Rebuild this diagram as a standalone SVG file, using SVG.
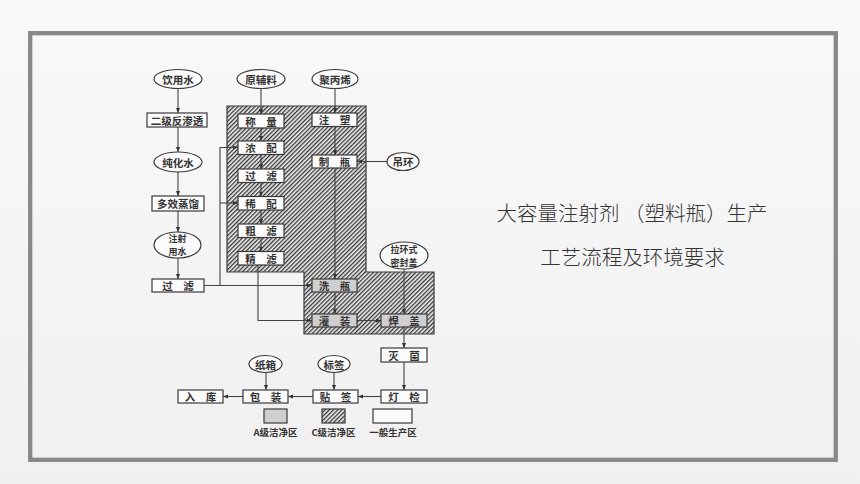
<svg xmlns="http://www.w3.org/2000/svg" width="860" height="484" viewBox="0 0 860 484">
<defs>
  <linearGradient id="bg" x1="0" y1="0" x2="0" y2="1">
    <stop offset="0" stop-color="#f9f9f9"/>
    <stop offset="1" stop-color="#f0f0f0"/>
  </linearGradient>
  <pattern id="hatch" patternUnits="userSpaceOnUse" width="3" height="3" patternTransform="rotate(45)">
    <rect width="3" height="3" fill="#f0f0f0"/>
    <line x1="0.65" y1="0" x2="0.65" y2="3" stroke="#333" stroke-width="1.3"/>
  </pattern>
  <marker id="arr" viewBox="0 0 8 8" refX="8" refY="4" markerWidth="5" markerHeight="5" orient="auto" markerUnits="userSpaceOnUse">
    <path d="M0,0.8 L8,4 L0,7.2 Z" fill="#333"/>
  </marker>
</defs>
<style>
  .frame{fill:none;stroke:#888;stroke-width:4.3}
  .box{fill:#fbfbfb;stroke:#3a3a3a;stroke-width:1.2}
  .boxa{fill:#cfcfcf;stroke:#3a3a3a;stroke-width:1.2}
  .ell{fill:#fbfbfb;stroke:#3a3a3a;stroke-width:1.2}
  .zone{fill:url(#hatch);stroke:#3a3a3a;stroke-width:1.2}
  .t{font-family:"Noto Sans CJK SC","Noto Sans",sans-serif;font-size:10.5px;font-weight:bold;fill:#333;text-anchor:middle;dominant-baseline:central}
  .t2{font-family:"Noto Sans CJK SC","Noto Sans",sans-serif;font-size:9px;font-weight:bold;fill:#333;text-anchor:middle;dominant-baseline:central}
  .lg{font-family:"Noto Sans CJK SC","Noto Sans",sans-serif;font-size:9.5px;font-weight:bold;fill:#333;text-anchor:middle;dominant-baseline:central}
  .title{font-family:"Noto Sans CJK SC",sans-serif;font-size:20.5px;font-weight:300;fill:#333;text-anchor:middle;dominant-baseline:central}
  .ca{fill:none;stroke:#444;stroke-width:1.1;marker-end:url(#arr)}
</style>
<rect width="860" height="484" fill="url(#bg)"/>
<rect class="frame" x="30.2" y="33.2" width="805.6" height="426.6"/>

<g id="zone-c">
  <path class="zone" d="M227,106 H366 V272 H434 V334 H304 V272 H227 Z"/>
</g>

<g id="connectors">
  <line class="ca" x1="178" y1="88.5" x2="178" y2="113"/>
  <line class="ca" x1="178" y1="127" x2="178" y2="152"/>
  <line class="ca" x1="178" y1="172" x2="178" y2="196"/>
  <line class="ca" x1="178" y1="211" x2="178" y2="232"/>
  <line class="ca" x1="178" y1="258" x2="178" y2="279"/>
  <line class="ca" x1="261" y1="88.5" x2="261" y2="114"/>
  <line class="ca" x1="261" y1="128" x2="261" y2="141"/>
  <line class="ca" x1="261" y1="154.5" x2="261" y2="169"/>
  <line class="ca" x1="261" y1="182.5" x2="261" y2="196.5"/>
  <line class="ca" x1="261" y1="210" x2="261" y2="224"/>
  <line class="ca" x1="261" y1="237.5" x2="261" y2="251.5"/>
  <line class="ca" x1="335" y1="88.5" x2="335" y2="113"/>
  <line class="ca" x1="335" y1="126.5" x2="335" y2="155"/>
  <line class="ca" x1="387" y1="161.5" x2="357" y2="161.5"/>
  <line class="ca" x1="335" y1="168" x2="335" y2="279"/>
  <line class="ca" x1="335" y1="292" x2="335" y2="314"/>
  <line class="ca" x1="204" y1="285.5" x2="312" y2="285.5"/>
  <path class="ca" d="M220,285.5 V147.5 H238"/>
  <line class="ca" x1="220" y1="203" x2="238" y2="203"/>
  <path class="ca" d="M258,265 V320.5 H312"/>
  <line class="ca" x1="357" y1="320.5" x2="381" y2="320.5"/>
  <line class="ca" x1="404" y1="269" x2="404" y2="314"/>
  <line class="ca" x1="404" y1="327" x2="404" y2="348"/>
  <line class="ca" x1="404" y1="362" x2="404" y2="390"/>
  <line class="ca" x1="381" y1="396.5" x2="358" y2="396.5"/>
  <line class="ca" x1="313" y1="396.5" x2="288" y2="396.5"/>
  <line class="ca" x1="243" y1="396.5" x2="223" y2="396.5"/>
  <line class="ca" x1="266" y1="372.5" x2="266" y2="390"/>
  <line class="ca" x1="334" y1="372.5" x2="334" y2="390"/>
</g>

<g id="n-yinyongshui"><ellipse class="ell" cx="178" cy="79" rx="24" ry="9.5"/><text class="t" x="178" y="79">饮用水</text></g>
<g id="n-erji"><rect class="box" x="147" y="113" width="60" height="14"/><text class="t" x="177" y="120">二级反渗透</text></g>
<g id="n-chunhuashui"><ellipse class="ell" cx="178" cy="162" rx="24" ry="10"/><text class="t" x="178" y="162">纯化水</text></g>
<g id="n-duoxiao"><rect class="box" x="152" y="196" width="52" height="15"/><text class="t" x="178" y="203.5">多效蒸馏</text></g>
<g id="n-zhusheyongshui"><ellipse class="ell" cx="177.5" cy="245" rx="23.5" ry="13"/><text class="t2" x="177.5" y="238.5">注射</text><text class="t2" x="177.5" y="251.7">用水</text></g>
<g id="n-guolv1"><rect class="box" x="152" y="279" width="52" height="13"/><text class="t" x="178" y="285.5">过　滤</text></g>

<g id="n-yuanfuliao"><ellipse class="ell" cx="261" cy="79" rx="24" ry="9.5"/><text class="t" x="261" y="79">原辅料</text></g>
<g id="n-chengliang"><rect class="box" x="238" y="114" width="46" height="14"/><text class="t" x="261" y="121">称　量</text></g>
<g id="n-nongpei"><rect class="box" x="238" y="141" width="46" height="13.5"/><text class="t" x="261" y="147.75">浓　配</text></g>
<g id="n-guolv2"><rect class="box" x="238" y="169" width="46" height="13.5"/><text class="t" x="261" y="175.75">过　滤</text></g>
<g id="n-xipei"><rect class="box" x="238" y="196.5" width="46" height="13.5"/><text class="t" x="261" y="203.25">稀　配</text></g>
<g id="n-culv"><rect class="box" x="238" y="224" width="46" height="13.5"/><text class="t" x="261" y="230.75">粗　滤</text></g>
<g id="n-jinglv"><rect class="box" x="238" y="251.5" width="46" height="13.5"/><text class="t" x="261" y="258.25">精　滤</text></g>

<g id="n-jubingxi"><ellipse class="ell" cx="335" cy="79" rx="23" ry="9.5"/><text class="t" x="335" y="79">聚丙烯</text></g>
<g id="n-zhusu"><rect class="box" x="312" y="113" width="45" height="13.5"/><text class="t" x="334.5" y="119.75">注　塑</text></g>
<g id="n-zhiping"><rect class="box" x="312" y="155" width="45" height="13"/><text class="t" x="334.5" y="161.5">制　瓶</text></g>
<g id="n-diaohuan"><ellipse class="ell" cx="403" cy="161.5" rx="16" ry="9"/><text class="t" x="403" y="161.5">吊环</text></g>

<g id="n-xiping"><rect class="boxa" x="312" y="279" width="45" height="13"/><text class="t" x="334.5" y="285.5">洗　瓶</text></g>
<g id="n-guanzhuang"><rect class="boxa" x="312" y="314" width="45" height="13"/><text class="t" x="334.5" y="320.5">灌　装</text></g>
<g id="n-hangai"><rect class="boxa" x="381" y="314" width="46" height="13"/><text class="t" x="404" y="320.5">焊　盖</text></g>
<g id="n-lahuanshi"><ellipse class="ell" cx="404" cy="255.5" rx="24" ry="13.5"/><text class="t2" x="404" y="249">拉环式</text><text class="t2" x="404" y="262.2">密封盖</text></g>

<g id="n-miejun"><rect class="box" x="381" y="348" width="46" height="14"/><text class="t" x="404" y="355">灭　菌</text></g>
<g id="n-dengjian"><rect class="box" x="381" y="390" width="46" height="13"/><text class="t" x="404" y="396.5">灯　检</text></g>
<g id="n-tieqian"><rect class="box" x="313" y="390" width="45" height="13"/><text class="t" x="335.5" y="396.5">贴　签</text></g>
<g id="n-baozhuang"><rect class="box" x="243" y="390" width="45" height="13"/><text class="t" x="265.5" y="396.5">包　装</text></g>
<g id="n-ruku"><rect class="box" x="178" y="390" width="45" height="13"/><text class="t" x="200.5" y="396.5">入　库</text></g>
<g id="n-zhixiang"><ellipse class="ell" cx="265.5" cy="364" rx="16.5" ry="8.5"/><text class="t" x="265.5" y="364">纸箱</text></g>
<g id="n-biaoqian"><ellipse class="ell" cx="334" cy="364" rx="16" ry="8.5"/><text class="t" x="334" y="364">标签</text></g>

<g id="legend">
  <rect class="boxa" x="264" y="409" width="23" height="14"/>
  <rect class="zone" x="322" y="409" width="23" height="14"/>
  <rect class="box" x="373" y="409" width="39" height="14"/>
  <text class="lg" x="275.5" y="432">A级洁净区</text>
  <text class="lg" x="333.5" y="432">C级洁净区</text>
  <text class="lg" x="393" y="432">一般生产区</text>
</g>

<g id="title">
  <text class="title" x="632" y="212">大容量注射剂 （塑料瓶）生产</text>
  <text class="title" x="632.5" y="256">工艺流程及环境要求</text>
</g>
</svg>
